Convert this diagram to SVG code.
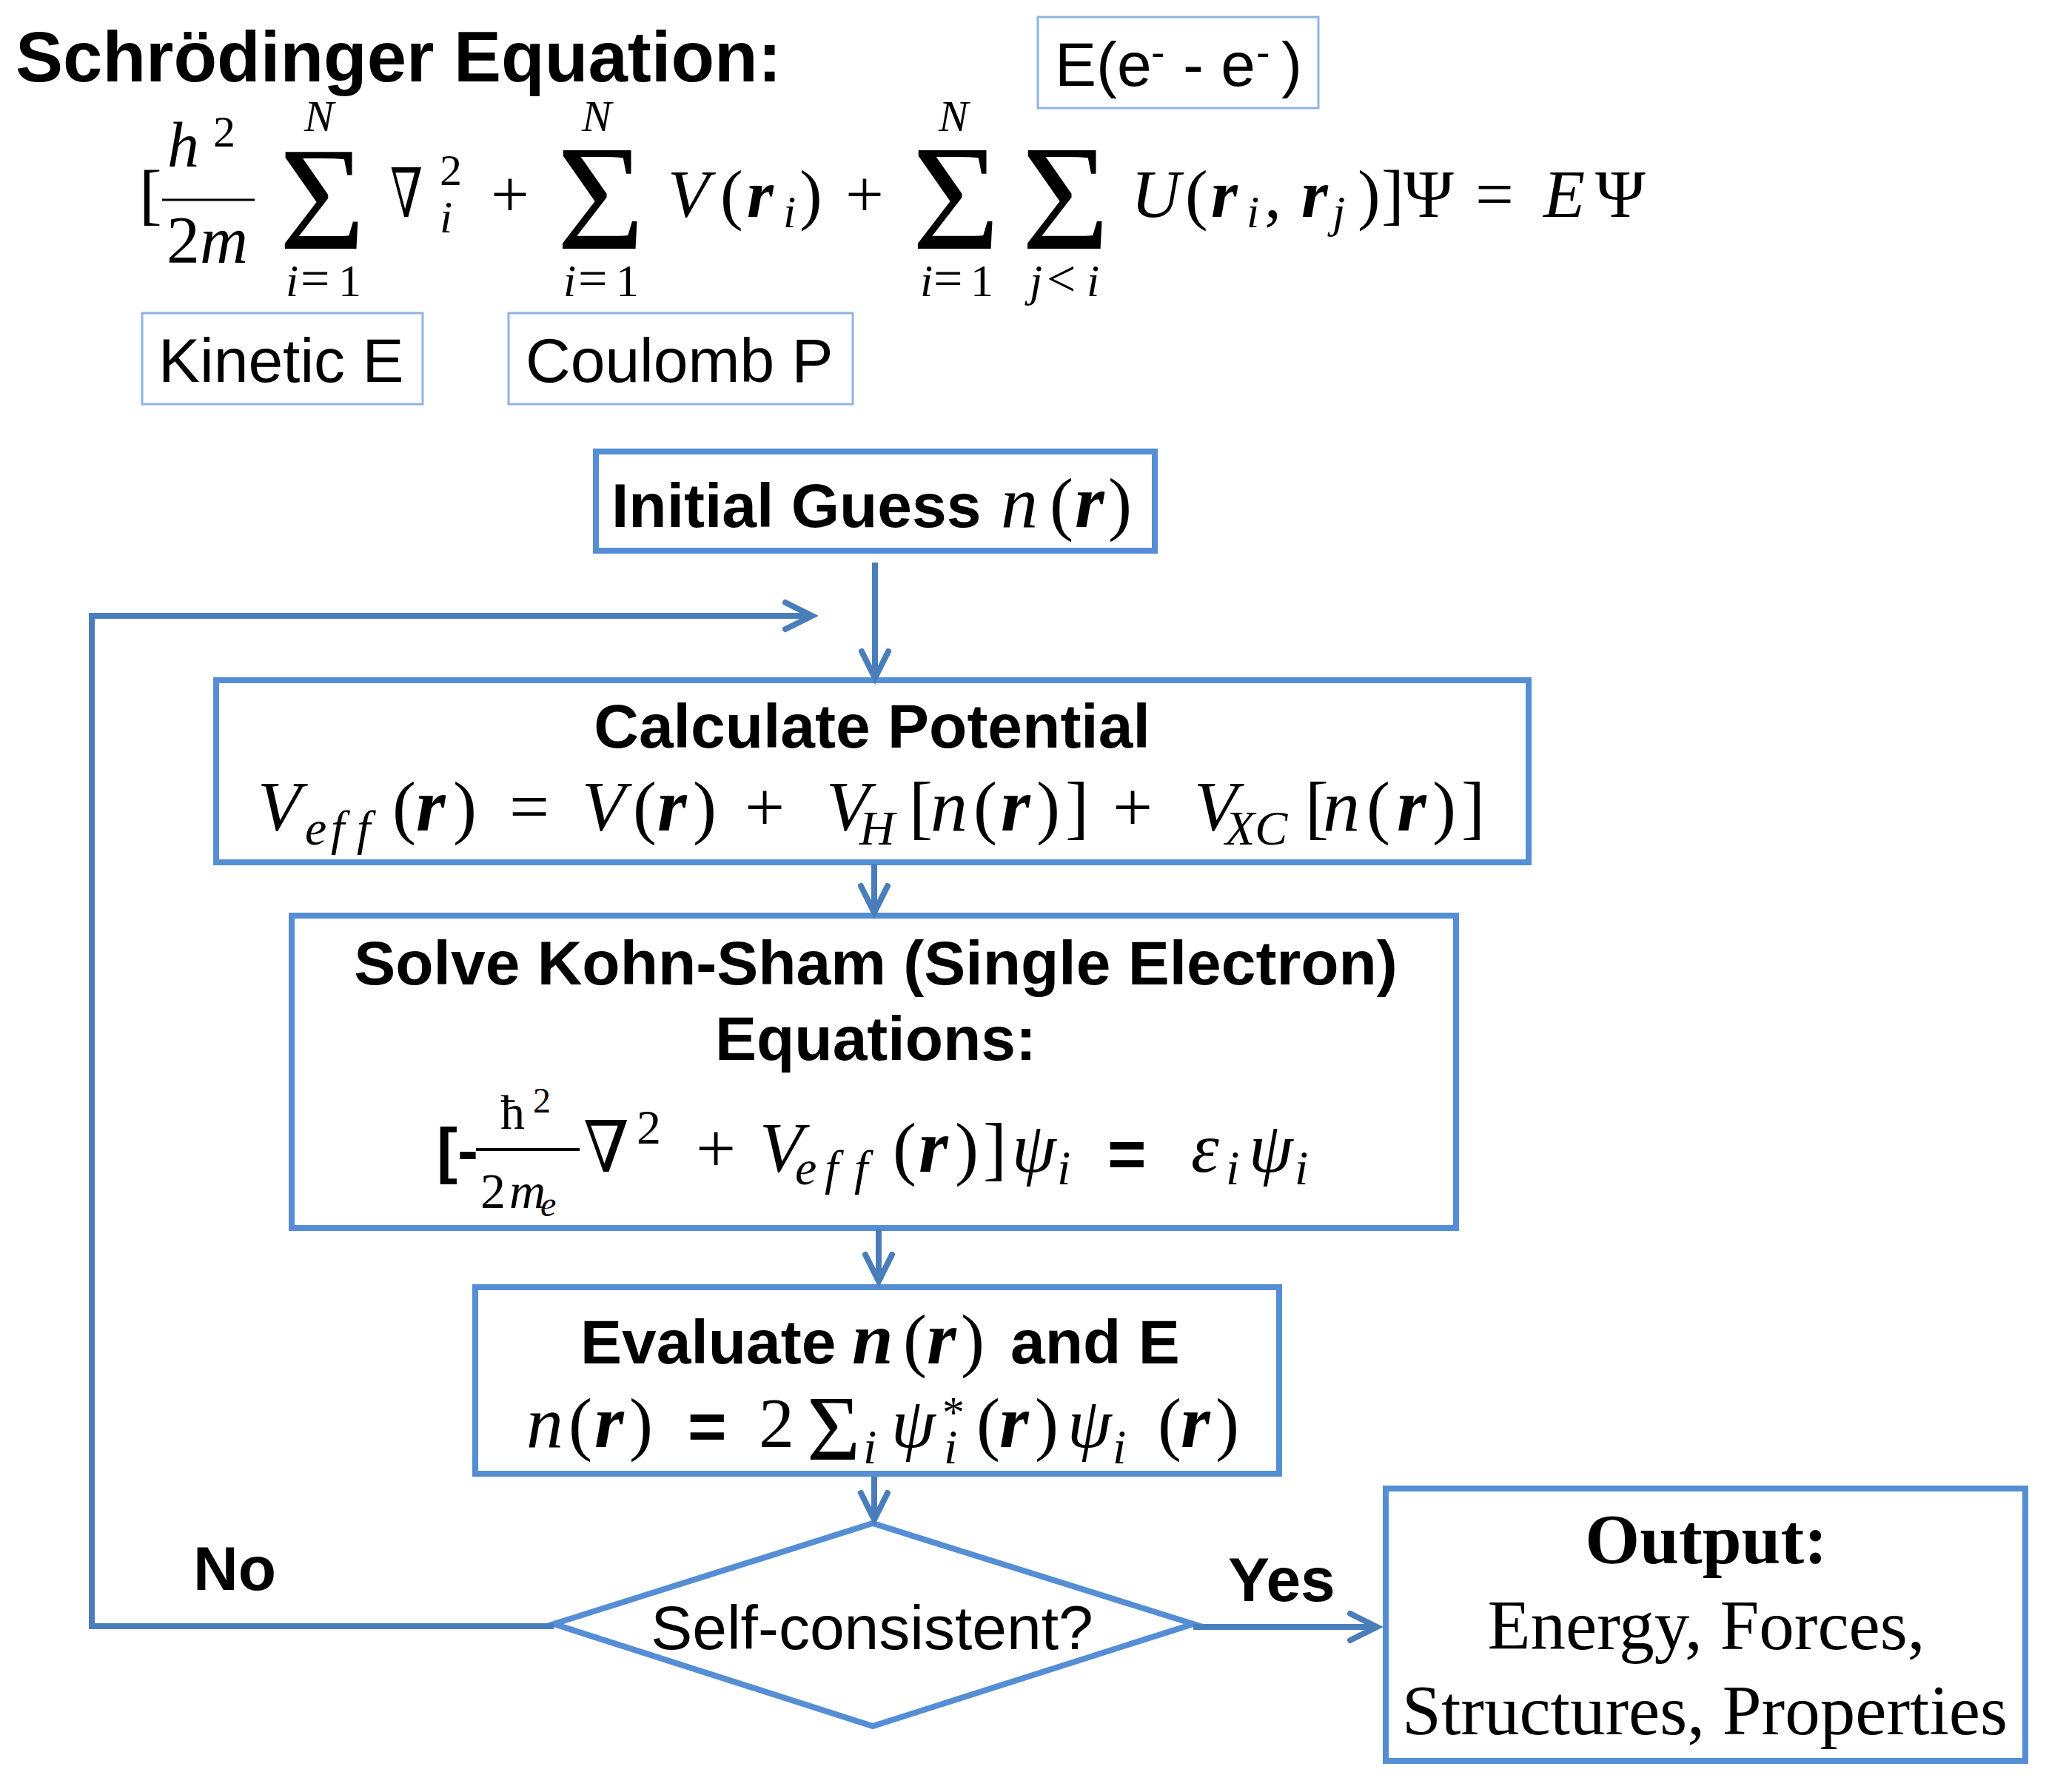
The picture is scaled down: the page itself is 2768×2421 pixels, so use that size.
<svg xmlns="http://www.w3.org/2000/svg" width="2768" height="2421" viewBox="0 0 2768 2421">
<style>
.sans{font-family:"Liberation Sans",Arial,sans-serif}
.b{font-weight:bold}
.m{font-family:"Liberation Serif","DejaVu Serif",serif}
.it{font-style:italic}
.bi{font-style:italic;font-weight:bold}
.box{fill:#ffffff;stroke:#558ED5;stroke-width:8}
.lbl{fill:#ffffff;stroke:#8EB4E3;stroke-width:3}
.conn{fill:none;stroke:#4A7EBB;stroke-width:8;marker-end:url(#arr)}
text{fill:#000000}
</style>
<defs>
<marker id="arr" markerUnits="userSpaceOnUse" viewBox="-50 -30 60 60" markerWidth="60" markerHeight="60" refX="0" refY="0" orient="auto" overflow="visible">
<path d="M-36,-18 L0,0 L-36,18" fill="none" stroke="#4A7EBB" stroke-width="8" stroke-linecap="round" stroke-linejoin="miter"/>
</marker>
</defs>
<rect x="0" y="0" width="2768" height="2421" fill="#ffffff"/>

<g id="title">
<text class="sans b" x="21" y="110" font-size="96">Schrödinger Equation:</text>
</g>

<g id="eq-schrodinger">
<line x1="219" y1="270" x2="344" y2="270" stroke="#000" stroke-width="3"/>
<text class="m" font-size="92">
<tspan x="188" y="293">[</tspan>
<tspan class="it" x="226" y="225" font-size="86">h</tspan><tspan x="288" y="198" font-size="60">2</tspan>
<tspan x="225" y="355" font-size="90">2</tspan><tspan class="it" x="270" font-size="90">m</tspan>
<tspan x="377" y="336" font-size="200">Σ</tspan>
<tspan class="it" x="411" y="177" font-size="60">N</tspan>
<tspan class="it" x="386" y="400" font-size="62">i</tspan><tspan x="406" font-size="70">=</tspan><tspan x="457" font-size="62">1</tspan>
</text>
<text class="m" x="527" y="293" font-size="92" textLength="44" lengthAdjust="spacingAndGlyphs">∇</text>
<text class="m" font-size="92">
<tspan x="594" y="250" font-size="60">2</tspan>
<tspan class="it" x="594" y="314" font-size="62">i</tspan>
<tspan x="663" y="293">+</tspan>
<tspan x="752" y="336" font-size="204">Σ</tspan>
<tspan class="it" x="786" y="177" font-size="60">N</tspan>
<tspan class="it" x="761" y="400" font-size="62">i</tspan><tspan x="781" font-size="70">=</tspan><tspan x="832" font-size="62">1</tspan>
<tspan class="it" x="902" y="293">V</tspan><tspan x="973">(</tspan><tspan class="bi" x="1009">r</tspan><tspan class="it" x="1058" y="307" font-size="62">i</tspan><tspan x="1080" y="293">)</tspan>
<tspan x="1142">+</tspan>
<tspan x="1232" y="336" font-size="204">Σ</tspan>
<tspan class="it" x="1268" y="177" font-size="60">N</tspan>
<tspan class="it" x="1243" y="400" font-size="62">i</tspan><tspan x="1261" font-size="70">=</tspan><tspan x="1311" font-size="62">1</tspan>
<tspan x="1380" y="336" font-size="204">Σ</tspan>
<tspan class="it" x="1391" y="400" font-size="62">j</tspan><tspan x="1414" font-size="70">&lt;</tspan><tspan class="it" x="1468" font-size="62">i</tspan>
<tspan class="it" x="1528" y="293">U</tspan><tspan x="1601">(</tspan><tspan class="bi" x="1636">r</tspan><tspan class="it" x="1684" y="307" font-size="62">i</tspan><tspan x="1708" y="293">,</tspan><tspan class="bi" x="1758">r</tspan><tspan class="it" x="1800" y="307" font-size="62">j</tspan><tspan x="1834" y="293">)</tspan><tspan x="1866">]</tspan>
<tspan x="1896">Ψ</tspan><tspan x="1993">=</tspan><tspan class="it" x="2085">E</tspan><tspan x="2155">Ψ</tspan>
</text>
</g>

<g id="label-kinetic">
<rect class="lbl" x="192" y="423" width="379" height="123"/>
<text class="sans" x="214" y="516" font-size="84">Kinetic E</text>
</g>
<g id="label-coulomb">
<rect class="lbl" x="687" y="423" width="465" height="123"/>
<text class="sans" x="710" y="516" font-size="84">Coulomb P</text>
</g>
<g id="label-ee">
<rect class="lbl" x="1402" y="23" width="379" height="123"/>
<text class="sans" font-size="84" y="116"><tspan x="1425">E(e</tspan><tspan x="1555" y="90" font-size="56">-</tspan><tspan x="1598" y="116">- e</tspan><tspan x="1697" y="90" font-size="56">-</tspan><tspan x="1731" y="116">)</tspan></text>
</g>

<g id="node-initial">
<rect class="box" x="805" y="610" width="755" height="134"/>
<text class="sans b" x="826" y="712" font-size="84">Initial Guess</text>
<text class="m" font-size="96" y="712"><tspan class="it" x="1352" font-size="100">n</tspan><tspan x="1418">(</tspan><tspan class="bi" x="1452" font-size="102">r</tspan><tspan x="1497">)</tspan></text>
</g>

<g id="node-calc">
<rect class="box" x="292" y="919" width="1773" height="246"/>
<text class="sans b" x="1178" y="1010" font-size="84" text-anchor="middle">Calculate Potential</text>
<text class="m" font-size="96" y="1122">
<tspan class="it" x="348">V</tspan><tspan class="it" font-size="66" y="1141" x="412">e</tspan><tspan class="it" font-size="66" y="1141" x="447">f</tspan><tspan class="it" font-size="66" y="1141" x="482">f</tspan>
<tspan x="530" y="1122">(</tspan><tspan class="bi" font-size="102" x="562">r</tspan><tspan x="612">)</tspan>
<tspan x="688">=</tspan>
<tspan class="it" x="786">V</tspan><tspan x="855">(</tspan><tspan class="bi" font-size="102" x="888">r</tspan><tspan x="936">)</tspan>
<tspan x="1006">+</tspan>
<tspan class="it" x="1116">V</tspan><tspan class="it" font-size="66" y="1141" x="1161">H</tspan>
<tspan x="1228" y="1122">[</tspan><tspan class="it" font-size="100" x="1257">n</tspan><tspan x="1315">(</tspan><tspan class="bi" font-size="102" x="1352">r</tspan><tspan x="1400">)</tspan><tspan x="1439">]</tspan>
<tspan x="1503">+</tspan>
<tspan class="it" x="1613">V</tspan><tspan class="it" font-size="66" y="1141" x="1655">XC</tspan>
<tspan x="1763" y="1122">[</tspan><tspan class="it" font-size="100" x="1787">n</tspan><tspan x="1846">(</tspan><tspan class="bi" font-size="102" x="1887">r</tspan><tspan x="1935">)</tspan><tspan x="1974">]</tspan>
</text>
</g>

<g id="node-solve">
<rect class="box" x="394" y="1237" width="1573" height="422"/>
<text class="sans b" x="1183" y="1330" font-size="84" text-anchor="middle">Solve Kohn-Sham (Single Electron)</text>
<text class="sans b" x="1183" y="1432" font-size="84" text-anchor="middle">Equations:</text>
<line x1="643" y1="1553" x2="783" y2="1553" stroke="#000" stroke-width="4"/>
<text class="m" font-size="66">
<tspan class="sans b" font-size="84" x="590" y="1583">[-</tspan>
<tspan x="676" y="1525">ħ</tspan><tspan font-size="48" x="720" y="1503">2</tspan>
<tspan font-size="68" x="649" y="1632">2</tspan><tspan class="it" font-size="68" x="688">m</tspan><tspan class="it" font-size="48" x="730" y="1643">e</tspan>
</text>
<text class="m it" x="788" y="1583" font-size="96" textLength="62" lengthAdjust="spacingAndGlyphs">∇</text>
<text class="m" font-size="96" y="1583">
<tspan font-size="66" x="860" y="1545">2</tspan>
<tspan x="940" y="1583">+</tspan>
<tspan class="it" x="1026">V</tspan><tspan class="it" font-size="66" y="1600" x="1074">e</tspan><tspan class="it" font-size="66" y="1600" x="1114">f</tspan><tspan class="it" font-size="66" y="1600" x="1154">f</tspan>
<tspan x="1206" y="1583">(</tspan><tspan class="bi" font-size="102" x="1241">r</tspan><tspan x="1290">)</tspan><tspan x="1328">]</tspan>
<tspan class="it" x="1367">ψ</tspan><tspan class="it" font-size="66" y="1600" x="1428">i</tspan>
<tspan class="sans b" font-size="90" x="1496" y="1590">=</tspan>
<tspan class="it" x="1609" y="1583">ε</tspan><tspan class="it" font-size="66" y="1600" x="1656">i</tspan>
<tspan class="it" x="1687" y="1583">ψ</tspan><tspan class="it" font-size="66" y="1600" x="1749">i</tspan>
</text>
</g>

<g id="node-evaluate">
<rect class="box" x="642" y="1739" width="1086" height="252"/>
<text class="sans b" x="784" y="1842" font-size="84">Evaluate</text>
<text class="m" font-size="96" y="1842"><tspan class="bi" font-size="100" x="1151">n</tspan><tspan x="1220">(</tspan><tspan class="bi" font-size="102" x="1252">r</tspan><tspan x="1298">)</tspan></text>
<text class="sans b" x="1365" y="1842" font-size="84">and E</text>
<text class="m" font-size="96" y="1955">
<tspan class="it" font-size="100" x="711">n</tspan><tspan x="768">(</tspan><tspan class="bi" font-size="102" x="803">r</tspan><tspan x="850">)</tspan>
<tspan class="sans b" font-size="90" x="929" y="1958">=</tspan>
<tspan x="1025" y="1955">2</tspan>
<tspan x="1090" y="1972" font-size="124">Σ</tspan>
<tspan class="it" font-size="66" x="1166" y="1977">i</tspan>
<tspan class="it" x="1204" y="1955">ψ</tspan><tspan font-size="60" x="1273" y="1928">*</tspan><tspan class="it" font-size="66" x="1275" y="1977">i</tspan>
<tspan x="1319" y="1955">(</tspan><tspan class="bi" font-size="102" x="1350">r</tspan><tspan x="1398">)</tspan>
<tspan class="it" x="1442">ψ</tspan><tspan class="it" font-size="66" x="1503" y="1977">i</tspan>
<tspan x="1564" y="1955">(</tspan><tspan class="bi" font-size="102" x="1595">r</tspan><tspan x="1642">)</tspan>
</text>
</g>

<g id="node-decision">
<polygon class="box" points="748,2194 1179,2058 1612,2194 1179,2332"/>
<text class="sans" x="1178" y="2228" font-size="84" text-anchor="middle">Self-consistent?</text>
</g>

<g id="node-output">
<rect class="box" x="1872" y="2011" width="864" height="368"/>
<text class="m b" x="2305" y="2112" font-size="95" text-anchor="middle">Output:</text>
<text class="m" x="2305" y="2228" font-size="95" text-anchor="middle">Energy, Forces,</text>
<text class="m" x="2303" y="2343" font-size="95" text-anchor="middle">Structures, Properties</text>
</g>

<g id="connectors">
<path class="conn" d="M1182,760 V916"/>
<path class="conn" d="M748,2197 H124 V832 H1097"/>
<path class="conn" d="M1181,1167 V1233"/>
<path class="conn" d="M1187,1661 V1731"/>
<path class="conn" d="M1181,1995 V2053"/>
<path class="conn" d="M1612,2198 H1860"/>
<text class="sans b" x="261" y="2148" font-size="84">No</text>
<text class="sans b" x="1659" y="2163" font-size="84">Yes</text>
</g>
</svg>
